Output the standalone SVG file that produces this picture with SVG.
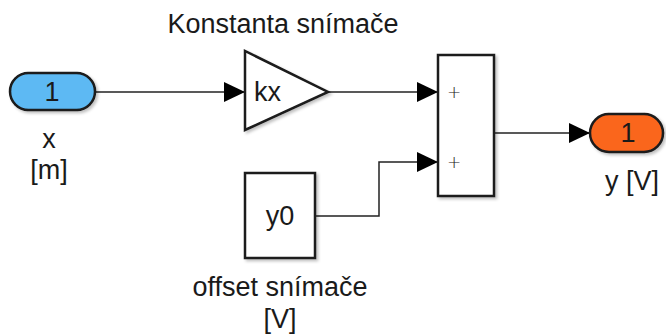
<svg xmlns="http://www.w3.org/2000/svg" width="666" height="335" viewBox="0 0 666 335">
<style>
.blk{fill:#fff;stroke:#1a1a1a;stroke-width:2.5}
.port{stroke:#1a1a1a;stroke-width:2.5}
.ln{fill:none;stroke:#222;stroke-width:1.5}
.t{font-family:"Liberation Sans",Arial,sans-serif;font-size:27px;fill:#1a1a1a}
.m{text-anchor:middle}
.pl{font-family:"DejaVu Sans",sans-serif;font-size:17px;font-weight:300;fill:#222;text-anchor:middle}
</style>
<defs>
<marker id="arr" markerWidth="21" markerHeight="20" refX="21" refY="10" orient="auto" markerUnits="userSpaceOnUse">
<path d="M0,0 L21,10 L0,20 Z" fill="#000"/>
</marker>
<filter id="sh" x="-10%" y="-10%" width="130%" height="130%">
<feGaussianBlur in="SourceAlpha" stdDeviation="1.5"/>
<feOffset dx="2" dy="2" result="b"/>
<feFlood flood-color="#000" flood-opacity="0.25"/>
<feComposite in2="b" operator="in"/>
<feMerge><feMergeNode/><feMergeNode in="SourceGraphic"/></feMerge>
</filter>
</defs>
<g id="connectors">
<path class="ln" d="M95,92 H245" marker-end="url(#arr)"/>
<path class="ln" d="M328,92 H438" marker-end="url(#arr)"/>
<path class="ln" d="M315,216 H379 V162 H438" marker-end="url(#arr)"/>
<path class="ln" d="M494,133 H590" marker-end="url(#arr)"/>
</g>
<g id="inport">
<rect class="port" x="10" y="73" width="85" height="37" rx="18.5" fill="#5DB9F3" filter="url(#sh)"/>
<text class="t m" x="52" y="101">1</text>
<text class="t m" x="49" y="148">x</text>
<text class="t m" x="49" y="179">[m]</text>
</g>
<g id="gain">
<polygon class="blk" points="245,51 245,130 328,92" filter="url(#sh)"/>
<text class="t" x="254" y="101">kx</text>
<text class="t m" x="283" y="33">Konstanta snímače</text>
</g>
<g id="sum">
<rect class="blk" x="438" y="55" width="56" height="141" filter="url(#sh)"/>
<text class="pl" x="454" y="98">+</text>
<text class="pl" x="454" y="168">+</text>
</g>
<g id="const">
<rect class="blk" x="245" y="173" width="70" height="85" filter="url(#sh)"/>
<text class="t m" x="280" y="225">y0</text>
<text class="t m" x="280" y="296">offset snímače</text>
<text class="t m" x="280" y="328">[V]</text>
</g>
<g id="outport">
<rect class="port" x="590" y="114" width="73" height="38" rx="19" fill="#FA661E" filter="url(#sh)"/>
<text class="t m" x="628" y="142">1</text>
<text class="t m" x="632" y="190">y [V]</text>
</g>
</svg>
